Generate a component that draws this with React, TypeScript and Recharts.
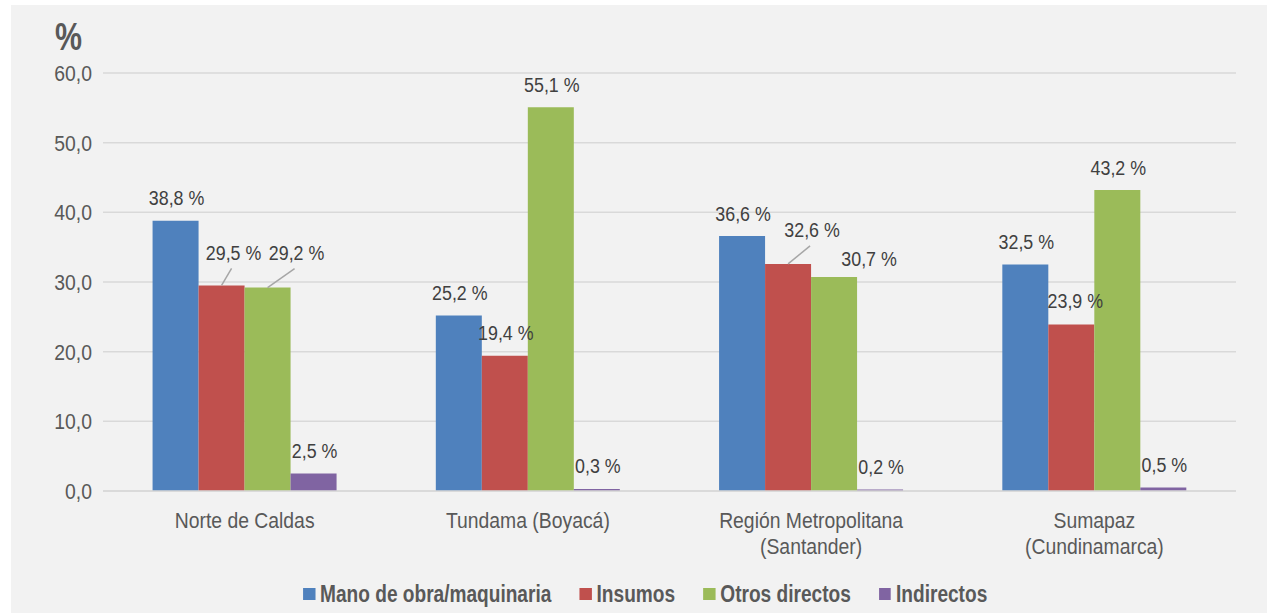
import React from 'react';
import { BarChart, Bar, XAxis, YAxis, CartesianGrid, LabelList } from 'recharts';

const categories = ['Norte de Caldas', 'Tundama (Boyacá)', 'Región Metropolitana\n(Santander)', 'Sumapaz\n(Cundinamarca)'];
const manoDeObra = [38.8, 25.2, 36.6, 32.5];
const insumos = [29.5, 19.4, 32.6, 23.9];
const otrosDirectos = [29.2, 55.1, 30.7, 43.2];
const indirectos = [2.5, 0.3, 0.2, 0.5];
const seriesNames = ['Mano de obra/maquinaria', 'Insumos', 'Otros directos', 'Indirectos'];
const seriesKeys = ['mano', 'insumos', 'otros', 'indirectos'];
const seriesColors = ['#4f81bd', '#c0504d', '#9bbb59', '#8064a2'];
const yTicks = [0, 10, 20, 30, 40, 50, 60];

const data = categories.map((c, i) => ({
  name: c,
  mano: manoDeObra[i],
  insumos: insumos[i],
  otros: otrosDirectos[i],
  indirectos: indirectos[i],
}));

const FONT = "'Liberation Sans', Arial, sans-serif";
const AXIS_SX = 0.88;
const LABEL_SX = 0.85;

// label placement tweaks: "seriesIndex-categoryIndex" -> {dx, dy (bar top to text center), leader}
const DEFAULT_LABEL = { dx: 1, dy: 23, leader: false };
const labelTweaks: Record<string, { dx: number; dy: number; leader: boolean }> = {
  '1-0': { dx: 12, dy: 33, leader: true },
  '2-0': { dx: 29, dy: 35, leader: true },
  '1-2': { dx: 24, dy: 34, leader: true },
  '2-2': { dx: 35, dy: 19, leader: false },
  '1-3': { dx: 4, dy: 24, leader: false },
};

const fmt = (v: number) => v.toFixed(1).replace('.', ',');

const makeLabel = (si: number) => (props: any) => {
  const { x, y, width, value, index } = props;
  const t = labelTweaks[`${si}-${index}`] || DEFAULT_LABEL;
  const cx = Number(x) + Number(width) / 2;
  const top = Number(y);
  const lx = cx + t.dx;
  const ly = top - t.dy;
  return (
    <g>
      {t.leader && (
        <line x1={lx - 2} y1={ly + 16} x2={cx} y2={top} stroke="#a6a6a6" strokeWidth={1.5} />
      )}
      <text
        transform={`translate(${lx},${ly}) scale(${LABEL_SX},1)`}
        x={0}
        y={0}
        textAnchor="middle"
        dominantBaseline="central"
        fill="#404040"
        fontSize={21}
        fontFamily={FONT}
      >
        {`${fmt(Number(value))} %`}
      </text>
    </g>
  );
};

const XTick = (props: any) => {
  const { x, y, payload } = props;
  const lines = String(payload.value).split('\n');
  return (
    <g transform={`translate(${x},${y}) scale(${AXIS_SX},1)`}>
      {lines.map((l, i) => (
        <text key={i} x={0} y={29 + i * 26} textAnchor="middle" dominantBaseline="central" fill="#595959" fontSize={22} fontFamily={FONT}>
          {l}
        </text>
      ))}
    </g>
  );
};

const YTick = (props: any) => {
  const { x, y, payload } = props;
  return (
    <text
      transform={`translate(${x},${y}) scale(${AXIS_SX},1)`}
      x={0}
      y={0}
      textAnchor="end"
      dominantBaseline="central"
      fill="#595959"
      fontSize={22}
      fontFamily={FONT}
    >
      {fmt(Number(payload.value))}
    </text>
  );
};

export default function App() {
  return (
    <div style={{ position: 'absolute', left: 0, top: 0, width: 1267, height: 613, background: '#ffffff', overflow: 'hidden' }}>
      <div style={{ position: 'absolute', left: 11, top: 5, width: 1256, height: 608, background: '#f2f2f2' }}>
        <BarChart
          width={1256}
          height={608}
          data={data}
          margin={{ top: 68, right: 31, bottom: 62, left: 0 }}
          barCategoryGap="17.5%"
          barGap={0}
        >
          <CartesianGrid vertical={false} stroke="#d9d9d9" strokeWidth={1.5} />
          <XAxis
            dataKey="name"
            axisLine={{ stroke: '#d9d9d9', strokeWidth: 1.5 }}
            tickLine={false}
            tickSize={0}
            tickMargin={0}
            height={60}
            interval={0}
            tick={<XTick />}
          />
          <YAxis
            width={92}
            domain={[0, 60]}
            ticks={yTicks}
            axisLine={false}
            tickLine={false}
            tickSize={0}
            tickMargin={11}
            tick={<YTick />}
          />
          {seriesKeys.map((k, si) => (
            <Bar key={k} dataKey={k} name={seriesNames[si]} fill={seriesColors[si]} isAnimationActive={false}>
              <LabelList dataKey={k} content={makeLabel(si)} />
            </Bar>
          ))}
        </BarChart>
        <div
          style={{
            position: 'absolute', left: 44, top: 10, fontFamily: FONT, fontWeight: 'bold',
            fontSize: 38, color: '#595959', lineHeight: '44px', transform: 'scaleX(0.8)', transformOrigin: 'left center',
          }}
        >
          %
        </div>
        <div
          style={{
            position: 'absolute', left: 0, width: 1256, top: 574, height: 30, display: 'flex',
            justifyContent: 'center', alignItems: 'center',
          }}
        >
          <div
            style={{
              display: 'flex', alignItems: 'center', fontFamily: FONT, fontWeight: 'bold',
              fontSize: 23, color: '#595959', transform: 'scaleX(0.83)', transformOrigin: 'center center',
              whiteSpace: 'nowrap', marginLeft: 12,
            }}
          >
            {seriesNames.map((n, i) => (
              <div key={n} style={{ display: 'flex', alignItems: 'center', marginRight: i < 3 ? 34 : 0 }}>
                <div style={{ width: 14.5, height: 12, background: seriesColors[i], marginRight: 6 }} />
                <span>{n}</span>
              </div>
            ))}
          </div>
        </div>
      </div>
    </div>
  );
}
